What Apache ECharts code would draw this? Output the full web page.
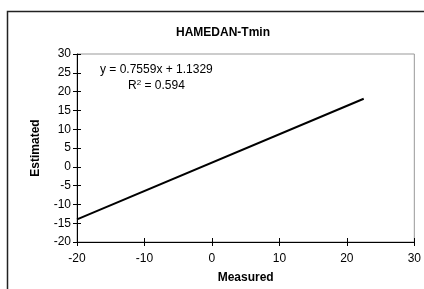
<!DOCTYPE html>
<html>
<head>
<meta charset="utf-8">
<script src="https://cdn.jsdelivr.net/npm/echarts@6/dist/echarts.min.js"></script>
<style>
  html, body { margin: 0; padding: 0; background: #fff; }
  #chart { width: 424px; height: 289px; }
</style>
</head>
<body>
<div id="chart"></div>
<script>
// trend line end points (Measured, Estimated)
const trendX = [-20, 22.5];
const trendY = [-14.0, 18.1];
const equationText = 'y = 0.7559x + 1.1329';
const r2Text = 'R{sup|2} = 0.594';

const FONT = 'Liberation Sans, Arial, sans-serif';

const chart = echarts.init(document.getElementById('chart'));

const baseAxisLabel = { color: '#000', fontFamily: FONT, fontSize: 12 };
const nameStyle = { fontFamily: FONT, fontSize: 12, fontWeight: 'bold', color: '#000' };

chart.setOption({
    animation: false,
    title: {
        text: 'HAMEDAN-Tmin',
        left: 218,
        top: 22,
        textAlign: 'center',
        textStyle: { fontFamily: FONT, fontSize: 12, fontWeight: 'bold', color: '#000' }
    },
    grid: {
        left: 77, right: 4, top: 54, bottom: 46,
        show: true, borderColor: '#999', borderWidth: 1
    },
    xAxis: [
        {
            type: 'value', min: -20, max: 30, interval: 10,
            name: 'Measured', nameLocation: 'middle', nameGap: 30,
            nameTextStyle: nameStyle,
            axisLine: { show: true, onZero: false, lineStyle: { color: '#000', width: 1 } },
            axisTick: { show: true, length: 4, lineStyle: { color: '#000' } },
            axisLabel: Object.assign({ margin: 11 }, baseAxisLabel),
            splitLine: { show: false }
        },
        {
            type: 'value', min: -20, max: 30, interval: 10, position: 'bottom',
            axisLine: { show: false, onZero: false },
            axisTick: { show: true, inside: true, length: 4, lineStyle: { color: '#000' } },
            axisLabel: { show: false },
            splitLine: { show: false }
        }
    ],
    yAxis: [
        {
            type: 'value', min: -20, max: 30, interval: 5,
            name: 'Estimated', nameLocation: 'middle', nameGap: 35, nameRotate: 90,
            nameTextStyle: nameStyle,
            axisLine: { show: true, onZero: false, lineStyle: { color: '#000', width: 1 } },
            axisTick: { show: true, length: 4, lineStyle: { color: '#000' } },
            axisLabel: Object.assign({ margin: 6 }, baseAxisLabel),
            splitLine: { show: false }
        },
        {
            type: 'value', min: -20, max: 30, interval: 5, position: 'left',
            axisLine: { show: false, onZero: false },
            axisTick: { show: true, inside: true, length: 4, lineStyle: { color: '#000' } },
            axisLabel: { show: false },
            splitLine: { show: false }
        }
    ],
    series: [{
        type: 'line',
        data: trendX.map((x, i) => [x, trendY[i]]),
        symbol: 'none',
        lineStyle: { color: '#000', width: 2 },
        silent: true
    }],
    graphic: [
        {
            type: 'rect',
            shape: { x: 7.5, y: 11.5, width: 500, height: 400 },
            style: { fill: 'none', stroke: '#222', lineWidth: 1.5 },
            silent: true, z: -1
        },
        {
            type: 'text', left: 100, top: 64,
            style: { text: equationText, font: '12px ' + FONT, fill: '#000' }
        },
        {
            type: 'text', left: 128, top: 79,
            style: {
                text: r2Text, font: '12px ' + FONT, fill: '#000',
                rich: { sup: { fontSize: 8, verticalAlign: 'top', padding: [0, 0, 5, 0] } }
            }
        }
    ]
});
</script>
</body>
</html>
